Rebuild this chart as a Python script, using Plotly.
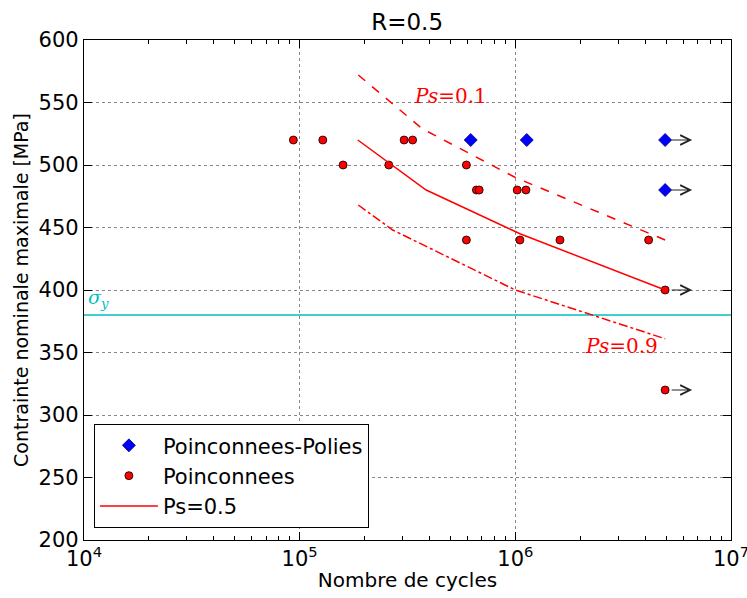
import plotly.graph_objects as go
import math

# Data
polies_N = [6.21e5, 1.13e6, 4.95e6, 4.95e6]
polies_S = [520, 520, 520, 480]

poinc_N = [9.35e4, 1.28e5, 1.59e5, 2.59e5, 3.05e5, 3.34e5, 5.93e5, 5.93e5,
           6.6e5, 6.8e5, 1.02e6, 1.12e6, 1.05e6, 1.61e6, 4.15e6, 4.95e6, 4.95e6]
poinc_S = [520, 520, 500, 500, 520, 520, 500, 440,
           480, 480, 480, 480, 440, 440, 440, 400, 320]

ps05_N = [1.86e5, 3.86e5, 1.05e6, 4.95e6]
ps05_S = [520, 480, 445, 400]

ps01_N = [1.87e5, 3.7e5, 1.0e6, 4.95e6]
ps01_S = [572, 529, 490, 440]

ps09_N = [1.87e5, 2.7e5, 1.0e6, 4.95e6]
ps09_S = [468, 448, 400, 361]

sigma_y_N = [1e4, 1e7]
sigma_y_S = [380, 380]

runout_N = [4.95e6, 4.95e6, 4.95e6, 4.95e6]
runout_S = [520, 480, 400, 320]
runout_end_N = 6.6e6

xticks = [1e4, 1e5, 1e6, 1e7]
xticktext = ["10<sup>4</sup>", "10<sup>5</sup>", "10<sup>6</sup>", "10<sup>7</sup>"]
yticks = [200, 250, 300, 350, 400, 450, 500, 550, 600]

FONT = "DejaVu Sans"
RED = "#FF0000"

fig = go.Figure()

fig.add_trace(go.Scatter(x=sigma_y_N, y=sigma_y_S, mode="lines",
                         line=dict(color="#00BFBF", width=1.5), showlegend=False))
fig.add_trace(go.Scatter(x=ps01_N, y=ps01_S, mode="lines",
                         line=dict(color=RED, width=1.5, dash="dash"), showlegend=False))
fig.add_trace(go.Scatter(x=ps09_N, y=ps09_S, mode="lines",
                         line=dict(color=RED, width=1.5, dash="dashdot"), showlegend=False))

fig.add_trace(go.Scatter(x=polies_N, y=polies_S, mode="markers", name="Poinconnees-Polies",
                         marker=dict(symbol="diamond", color="#0000FF", size=10,
                                     line=dict(color="#000080", width=0.8))))
fig.add_trace(go.Scatter(x=poinc_N, y=poinc_S, mode="markers", name="Poinconnees",
                         marker=dict(symbol="circle", color=RED, size=8,
                                     line=dict(color="#000000", width=0.8))))
fig.add_trace(go.Scatter(x=ps05_N, y=ps05_S, mode="lines", name="Ps=0.5",
                         line=dict(color=RED, width=1.5)))

annotations = []
for n, s in zip(runout_N, runout_S):
    annotations.append(dict(
        x=math.log10(runout_end_N), y=s, ax=math.log10(n), ay=s,
        xref="x", yref="y", axref="x", ayref="y",
        showarrow=True, arrowhead=5, arrowsize=1.6, arrowwidth=1.2,
        arrowcolor="#222222", text="", standoff=0, startstandoff=5))

annotations.append(dict(x=math.log10(5.0e5), y=555, xref="x", yref="y",
                        text="<i>Ps</i>=0.1", showarrow=False,
                        font=dict(family="DejaVu Serif", size=20, color=RED)))
annotations.append(dict(x=math.log10(3.1e6), y=355, xref="x", yref="y",
                        text="<i>Ps</i>=0.9", showarrow=False,
                        font=dict(family="DejaVu Serif", size=20, color=RED)))
annotations.append(dict(x=math.log10(1.17e4), y=393, xref="x", yref="y",
                        text="<i>σ</i><sub><i>y</i></sub>", showarrow=False,
                        font=dict(family="DejaVu Serif", size=19, color="#00BFBF")))

fig.update_layout(
    width=747, height=598,
    margin=dict(l=84, r=16, t=40, b=58),
    paper_bgcolor="white", plot_bgcolor="white",
    font=dict(family=FONT, size=19, color="black"),
    title=dict(text="R=0.5", x=0.545, xanchor="center", y=0.964, yanchor="middle",
               font=dict(family=FONT, size=23)),
    annotations=annotations,
    legend=dict(x=0.015, y=0.024, xanchor="left", yanchor="bottom",
                bgcolor="white", bordercolor="black", borderwidth=1.2,
                font=dict(family=FONT, size=21), itemwidth=58),
    showlegend=True,
)

fig.update_xaxes(
    type="log", range=[4, 7], tickvals=xticks, ticktext=xticktext,
    title=dict(text="Nombre de cycles", font=dict(size=20), standoff=2),
    tickfont=dict(size=21), automargin=False, ticklabeloverflow="allow",
    showline=True, linecolor="black", linewidth=1.2, mirror="ticks",
    ticks="inside", ticklen=8, tickcolor="black",
    showgrid=True, gridcolor="#888888", griddash="dot", gridwidth=1,
    zeroline=False,
    minor=dict(ticks="inside", ticklen=4, tickcolor="black", showgrid=False, dtick="D1"),
)
fig.update_yaxes(
    range=[200, 600], tickvals=yticks,
    title=dict(text="Contrainte nominale maximale [MPa]", font=dict(size=19), standoff=4),
    tickfont=dict(size=21), automargin=False,
    showline=True, linecolor="black", linewidth=1.2, mirror="ticks",
    ticks="inside", ticklen=8, tickcolor="black",
    showgrid=True, gridcolor="#888888", griddash="dot", gridwidth=1,
    zeroline=False,
)

fig.write_html("out.html", config={"displayModeBar": False},
               post_script="document.body.style.margin='0';")
